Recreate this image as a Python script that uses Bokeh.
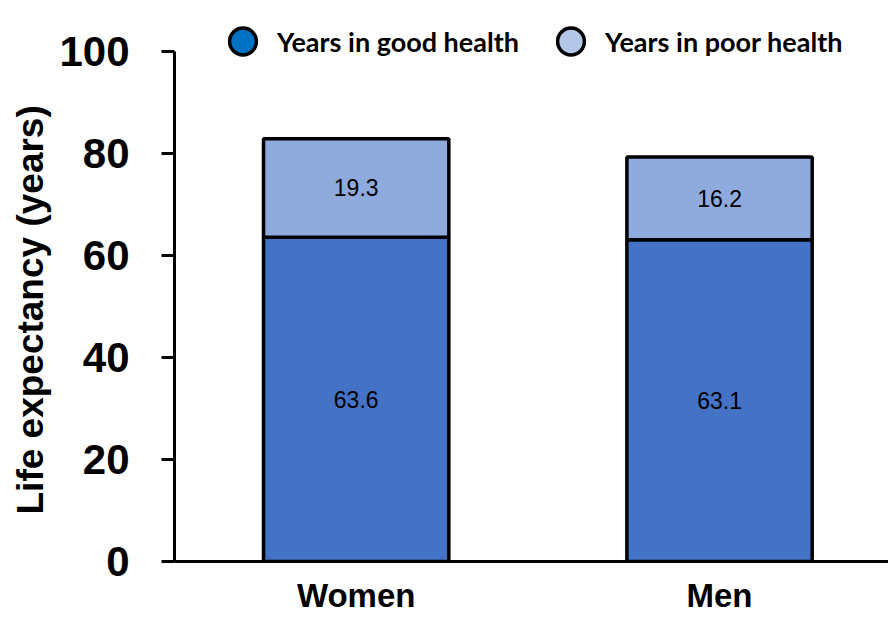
from bokeh.plotting import figure
from bokeh.models import ColumnDataSource, Legend, LegendItem, FixedTicker, Range1d, Title
from bokeh.core.properties import value
from bokeh.embed import file_html
from bokeh.resources import INLINE

# Healthy life expectancy by sex (years)
groups = ["Women", "Men"]
good_health = [63.6, 63.1]
poor_health = [19.3, 16.2]
y_ticks = [0, 20, 40, 60, 80, 100]
y_title = "Life expectancy (years)"

bar_good = "#4472C4"
bar_poor = "#8FAADC"
key_good = "#0070C0"
key_poor = "#B4C7E7"

xpos = list(range(len(groups)))
totals = [g + q for g, q in zip(good_health, poor_health)]
src = ColumnDataSource(dict(
    x=xpos,
    good=good_health,
    total=totals,
    good_mid=[g / 2 for g in good_health],
    poor_mid=[g + q / 2 for g, q in zip(good_health, poor_health)],
    good_lbl=[f"{v:.1f}" for v in good_health],
    poor_lbl=[f"{v:.1f}" for v in poor_health],
))

# headroom above 100 holds the keys; the axis itself stops at 100
p = figure(width=888, height=617,
           x_range=Range1d(-0.5, 1.465), y_range=Range1d(0, 110),
           output_backend="svg", toolbar_location=None,
           min_border_left=174, min_border_right=0,
           min_border_top=0, min_border_bottom=56)
p.outline_line_color = None
p.grid.visible = False
p.background_fill_color = "white"

p.vbar(x="x", width=0.51, bottom=0, top="good", source=src,
       fill_color=bar_good, line_color="black", line_width=3.5)
p.vbar(x="x", width=0.51, bottom="good", top="total", source=src,
       fill_color=bar_poor, line_color="black", line_width=3.5)

for ycol, tcol in (("good_mid", "good_lbl"), ("poor_mid", "poor_lbl")):
    p.text(x="x", y=ycol, text=tcol, source=src,
           text_align="center", text_baseline="middle",
           text_font=value("Liberation Sans"), text_font_size="23px",
           text_color="black")

# y axis
ya = p.yaxis[0]
ya.bounds = (y_ticks[0], y_ticks[-1])
ya.ticker = FixedTicker(ticks=y_ticks)
ya.axis_line_width = 3
ya.major_tick_line_width = 3
ya.major_tick_out = 13
ya.major_tick_in = 0
ya.minor_tick_line_color = None
ya.major_label_text_font = "Liberation Sans"
ya.major_label_text_font_style = "bold"
ya.major_label_text_font_size = "42px"
ya.major_label_text_color = "black"
ya.major_label_standoff = 32

# y title centred on the 0-100 span rather than the whole frame
p.add_layout(Title(text=y_title, align="left", offset=47, standoff=12,
                   text_font="Liberation Sans", text_font_style="bold",
                   text_font_size="37px", text_color="black"), "left")

# x axis
xa = p.xaxis[0]
xa.ticker = FixedTicker(ticks=xpos)
xa.major_label_overrides = {i: g for i, g in zip(xpos, groups)}
xa.axis_line_width = 3
xa.major_tick_out = 0
xa.major_tick_in = 0
xa.minor_tick_line_color = None
xa.major_label_text_font = "Liberation Sans"
xa.major_label_text_font_style = "bold"
xa.major_label_text_font_size = "33px"
xa.major_label_text_color = "black"
xa.major_label_standoff = 15

# circular keys above the bars
keys = [("Years in good health", key_good, 35), ("Years in poor health", key_poor, 363)]
for label, color, xoff in keys:
    r = p.scatter(x=[float("nan")], y=[float("nan")], marker="circle",
                  fill_color=color, line_color="black", line_width=3.5)
    leg = Legend(items=[LegendItem(label=label, renderers=[r])],
                 location=(xoff, 486), orientation="horizontal",
                 glyph_width=67, glyph_height=68, label_standoff=1,
                 padding=0, margin=0, border_line_color=None,
                 background_fill_alpha=0,
                 label_text_font="Lato", label_text_font_style="bold",
                 label_text_font_size="27px", label_text_color="black")
    p.add_layout(leg, "center")

open("out.html", "w").write(file_html(p, INLINE))
